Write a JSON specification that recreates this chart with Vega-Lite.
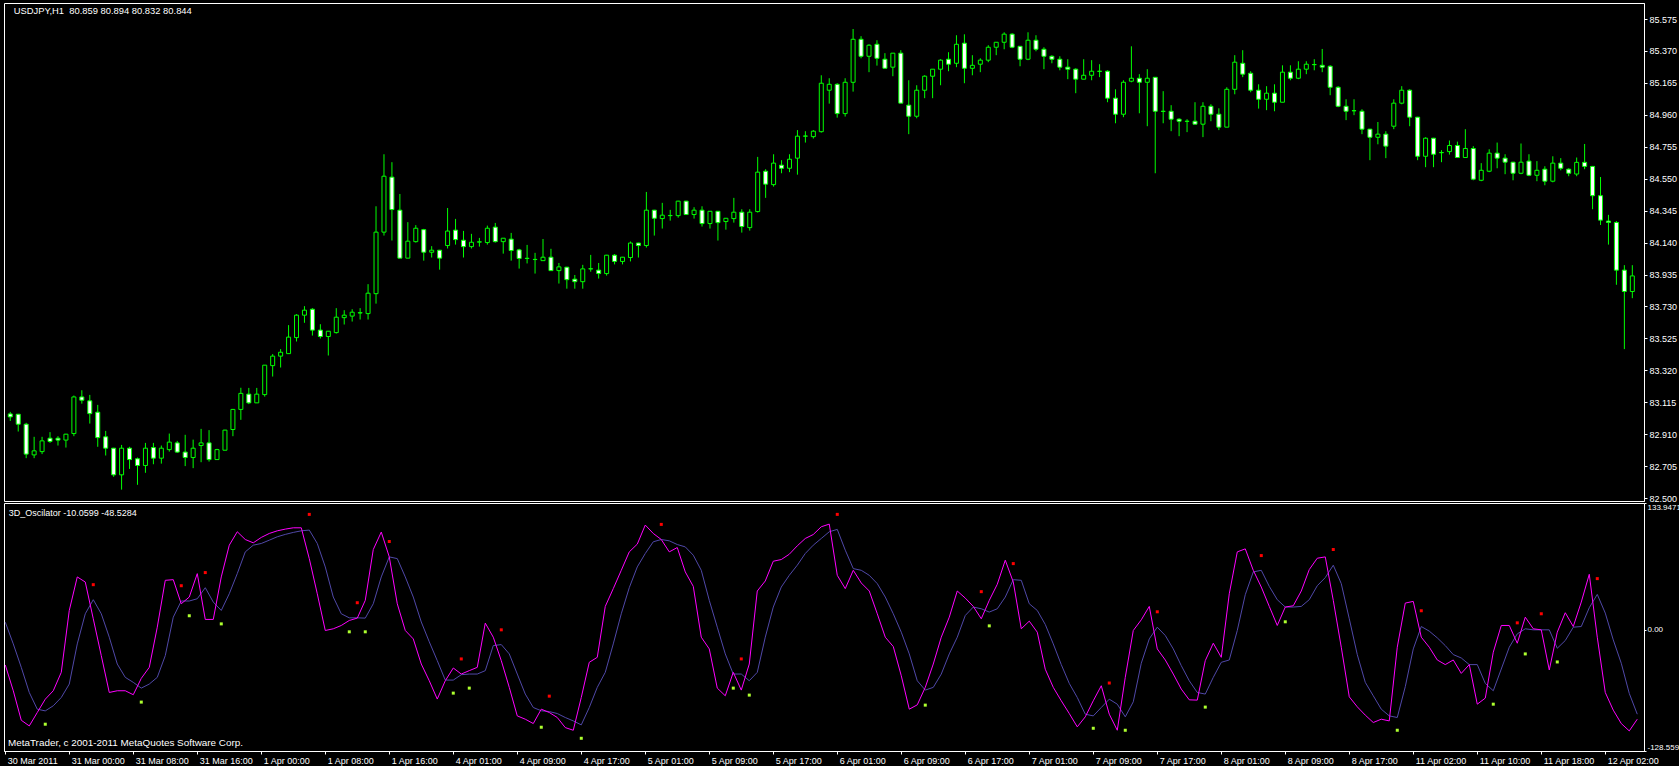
{
"$schema": "https://vega.github.io/schema/vega-lite/v6.json",
"background": "#000000",
"padding": {"left": 2, "top": 2, "right": 0, "bottom": 0},
"bounds": "flush",
"spacing": 2,
"config": {
  "view": {"stroke": "#ffffff", "strokeWidth": 1},
  "axis": {"domainColor": "#ffffff", "tickColor": "#ffffff", "labelColor": "#ffffff", "labelFont": "Liberation Sans", "labelFontSize": 9, "grid": false, "tickSize": 3, "labelPadding": 2, "labelOverlap": false, "labelFlush": false}
},
"datasets": {
"candles": [
{"i":0,"o":83.040,"h":83.053,"l":82.995,"c":83.021},
{"i":1,"o":83.038,"h":83.040,"l":82.927,"c":82.974},
{"i":2,"o":82.974,"h":82.983,"l":82.756,"c":82.782},
{"i":3,"o":82.777,"h":82.893,"l":82.756,"c":82.803},
{"i":4,"o":82.798,"h":82.893,"l":82.782,"c":82.867},
{"i":5,"o":82.884,"h":82.923,"l":82.854,"c":82.863},
{"i":6,"o":82.884,"h":82.897,"l":82.837,"c":82.872},
{"i":7,"o":82.872,"h":82.912,"l":82.824,"c":82.910},
{"i":8,"o":82.914,"h":83.158,"l":82.897,"c":83.149},
{"i":9,"o":83.149,"h":83.192,"l":83.106,"c":83.128},
{"i":10,"o":83.124,"h":83.162,"l":82.978,"c":83.042},
{"i":11,"o":83.051,"h":83.098,"l":82.829,"c":82.888},
{"i":12,"o":82.893,"h":82.931,"l":82.773,"c":82.820},
{"i":13,"o":82.820,"h":82.822,"l":82.636,"c":82.649},
{"i":14,"o":82.649,"h":82.841,"l":82.554,"c":82.820},
{"i":15,"o":82.820,"h":82.829,"l":82.687,"c":82.747},
{"i":16,"o":82.752,"h":82.760,"l":82.585,"c":82.709},
{"i":17,"o":82.709,"h":82.854,"l":82.662,"c":82.820},
{"i":18,"o":82.824,"h":82.854,"l":82.717,"c":82.756},
{"i":19,"o":82.756,"h":82.837,"l":82.721,"c":82.820},
{"i":20,"o":82.811,"h":82.914,"l":82.798,"c":82.859},
{"i":21,"o":82.854,"h":82.867,"l":82.790,"c":82.795},
{"i":22,"o":82.795,"h":82.906,"l":82.705,"c":82.760},
{"i":23,"o":82.760,"h":82.875,"l":82.692,"c":82.820},
{"i":24,"o":82.837,"h":82.944,"l":82.730,"c":82.854},
{"i":25,"o":82.854,"h":82.936,"l":82.734,"c":82.747},
{"i":26,"o":82.747,"h":82.816,"l":82.745,"c":82.811},
{"i":27,"o":82.807,"h":82.938,"l":82.806,"c":82.936},
{"i":28,"o":82.940,"h":83.072,"l":82.897,"c":83.069},
{"i":29,"o":83.069,"h":83.208,"l":83.002,"c":83.172},
{"i":30,"o":83.167,"h":83.207,"l":83.103,"c":83.111},
{"i":31,"o":83.111,"h":83.207,"l":83.111,"c":83.167},
{"i":32,"o":83.164,"h":83.353,"l":83.151,"c":83.353},
{"i":33,"o":83.350,"h":83.424,"l":83.280,"c":83.411},
{"i":34,"o":83.411,"h":83.456,"l":83.338,"c":83.436},
{"i":35,"o":83.427,"h":83.610,"l":83.427,"c":83.533},
{"i":36,"o":83.530,"h":83.680,"l":83.505,"c":83.674},
{"i":37,"o":83.674,"h":83.732,"l":83.625,"c":83.706},
{"i":38,"o":83.712,"h":83.719,"l":83.543,"c":83.578},
{"i":39,"o":83.578,"h":83.616,"l":83.524,"c":83.537},
{"i":40,"o":83.537,"h":83.571,"l":83.415,"c":83.571},
{"i":41,"o":83.562,"h":83.719,"l":83.556,"c":83.661},
{"i":42,"o":83.658,"h":83.706,"l":83.614,"c":83.674},
{"i":43,"o":83.668,"h":83.712,"l":83.633,"c":83.693},
{"i":44,"o":83.688,"h":83.719,"l":83.646,"c":83.690},
{"i":45,"o":83.684,"h":83.873,"l":83.646,"c":83.815},
{"i":46,"o":83.812,"h":84.373,"l":83.748,"c":84.207},
{"i":47,"o":84.207,"h":84.707,"l":84.185,"c":84.566},
{"i":48,"o":84.560,"h":84.656,"l":84.153,"c":84.352},
{"i":49,"o":84.348,"h":84.452,"l":84.040,"c":84.040},
{"i":50,"o":84.040,"h":84.271,"l":84.040,"c":84.149},
{"i":51,"o":84.146,"h":84.252,"l":84.140,"c":84.232},
{"i":52,"o":84.223,"h":84.228,"l":84.024,"c":84.078},
{"i":53,"o":84.078,"h":84.117,"l":84.044,"c":84.091},
{"i":54,"o":84.091,"h":84.093,"l":83.966,"c":84.040},
{"i":55,"o":84.121,"h":84.362,"l":84.102,"c":84.214},
{"i":56,"o":84.220,"h":84.292,"l":84.127,"c":84.159},
{"i":57,"o":84.155,"h":84.215,"l":84.044,"c":84.114},
{"i":58,"o":84.114,"h":84.196,"l":84.102,"c":84.142},
{"i":59,"o":84.143,"h":84.170,"l":84.114,"c":84.145},
{"i":60,"o":84.140,"h":84.249,"l":84.127,"c":84.232},
{"i":61,"o":84.239,"h":84.266,"l":84.140,"c":84.146},
{"i":62,"o":84.146,"h":84.168,"l":84.069,"c":84.168},
{"i":63,"o":84.162,"h":84.202,"l":84.024,"c":84.089},
{"i":64,"o":84.093,"h":84.100,"l":83.973,"c":84.038},
{"i":65,"o":84.039,"h":84.125,"l":84.006,"c":84.038},
{"i":66,"o":84.032,"h":84.074,"l":83.941,"c":84.031},
{"i":67,"o":84.024,"h":84.163,"l":84.024,"c":84.046},
{"i":68,"o":84.046,"h":84.100,"l":83.960,"c":83.960},
{"i":69,"o":83.960,"h":84.009,"l":83.877,"c":83.984},
{"i":70,"o":83.982,"h":83.984,"l":83.844,"c":83.902},
{"i":71,"o":83.905,"h":83.932,"l":83.844,"c":83.889},
{"i":72,"o":83.889,"h":83.997,"l":83.844,"c":83.971},
{"i":73,"o":83.971,"h":84.061,"l":83.953,"c":83.972},
{"i":74,"o":83.963,"h":84.009,"l":83.909,"c":83.941},
{"i":75,"o":83.941,"h":84.061,"l":83.928,"c":84.059},
{"i":76,"o":84.059,"h":84.066,"l":84.000,"c":84.019},
{"i":77,"o":84.019,"h":84.048,"l":84.000,"c":84.046},
{"i":78,"o":84.044,"h":84.147,"l":84.019,"c":84.137},
{"i":79,"o":84.137,"h":84.139,"l":84.044,"c":84.121},
{"i":80,"o":84.121,"h":84.465,"l":84.108,"c":84.348},
{"i":81,"o":84.348,"h":84.350,"l":84.185,"c":84.296},
{"i":82,"o":84.294,"h":84.395,"l":84.230,"c":84.316},
{"i":83,"o":84.313,"h":84.350,"l":84.281,"c":84.314},
{"i":84,"o":84.313,"h":84.408,"l":84.300,"c":84.406},
{"i":85,"o":84.406,"h":84.408,"l":84.320,"c":84.320},
{"i":86,"o":84.320,"h":84.367,"l":84.294,"c":84.348},
{"i":87,"o":84.348,"h":84.373,"l":84.243,"c":84.262},
{"i":88,"o":84.262,"h":84.343,"l":84.230,"c":84.341},
{"i":89,"o":84.341,"h":84.343,"l":84.153,"c":84.268},
{"i":90,"o":84.275,"h":84.298,"l":84.223,"c":84.296},
{"i":91,"o":84.294,"h":84.427,"l":84.268,"c":84.335},
{"i":92,"o":84.335,"h":84.354,"l":84.204,"c":84.243},
{"i":93,"o":84.236,"h":84.354,"l":84.217,"c":84.335},
{"i":94,"o":84.339,"h":84.690,"l":84.333,"c":84.592},
{"i":95,"o":84.598,"h":84.611,"l":84.427,"c":84.515},
{"i":96,"o":84.512,"h":84.707,"l":84.499,"c":84.650},
{"i":97,"o":84.637,"h":84.669,"l":84.585,"c":84.617},
{"i":98,"o":84.617,"h":84.707,"l":84.592,"c":84.675},
{"i":99,"o":84.682,"h":84.862,"l":84.576,"c":84.823},
{"i":100,"o":84.823,"h":84.855,"l":84.782,"c":84.824},
{"i":101,"o":84.820,"h":84.862,"l":84.808,"c":84.855},
{"i":102,"o":84.852,"h":85.214,"l":84.846,"c":85.163},
{"i":103,"o":85.118,"h":85.195,"l":85.032,"c":85.156},
{"i":104,"o":85.156,"h":85.163,"l":84.942,"c":84.968},
{"i":105,"o":84.968,"h":85.195,"l":84.949,"c":85.169},
{"i":106,"o":85.169,"h":85.511,"l":85.109,"c":85.445},
{"i":107,"o":85.445,"h":85.465,"l":85.323,"c":85.336},
{"i":108,"o":85.336,"h":85.413,"l":85.234,"c":85.407},
{"i":109,"o":85.413,"h":85.439,"l":85.276,"c":85.323},
{"i":110,"o":85.317,"h":85.356,"l":85.259,"c":85.259},
{"i":111,"o":85.266,"h":85.356,"l":85.208,"c":85.356},
{"i":112,"o":85.356,"h":85.375,"l":85.035,"c":85.035},
{"i":113,"o":85.022,"h":85.182,"l":84.836,"c":84.951},
{"i":114,"o":84.951,"h":85.150,"l":84.938,"c":85.118},
{"i":115,"o":85.118,"h":85.214,"l":85.067,"c":85.208},
{"i":116,"o":85.208,"h":85.253,"l":85.067,"c":85.253},
{"i":117,"o":85.253,"h":85.317,"l":85.150,"c":85.311},
{"i":118,"o":85.317,"h":85.362,"l":85.240,"c":85.285},
{"i":119,"o":85.291,"h":85.471,"l":85.266,"c":85.413},
{"i":120,"o":85.420,"h":85.477,"l":85.163,"c":85.259},
{"i":121,"o":85.259,"h":85.343,"l":85.214,"c":85.278},
{"i":122,"o":85.285,"h":85.323,"l":85.234,"c":85.311},
{"i":123,"o":85.311,"h":85.407,"l":85.298,"c":85.394},
{"i":124,"o":85.394,"h":85.426,"l":85.343,"c":85.426},
{"i":125,"o":85.426,"h":85.490,"l":85.381,"c":85.478},
{"i":126,"o":85.478,"h":85.484,"l":85.388,"c":85.394},
{"i":127,"o":85.400,"h":85.402,"l":85.272,"c":85.317},
{"i":128,"o":85.317,"h":85.490,"l":85.311,"c":85.439},
{"i":129,"o":85.439,"h":85.471,"l":85.368,"c":85.381},
{"i":130,"o":85.381,"h":85.394,"l":85.253,"c":85.336},
{"i":131,"o":85.336,"h":85.343,"l":85.291,"c":85.317},
{"i":132,"o":85.317,"h":85.336,"l":85.246,"c":85.266},
{"i":133,"o":85.266,"h":85.317,"l":85.189,"c":85.253},
{"i":134,"o":85.253,"h":85.259,"l":85.099,"c":85.189},
{"i":135,"o":85.189,"h":85.317,"l":85.189,"c":85.214},
{"i":136,"o":85.214,"h":85.311,"l":85.182,"c":85.240},
{"i":137,"o":85.240,"h":85.285,"l":85.202,"c":85.239},
{"i":138,"o":85.240,"h":85.246,"l":85.041,"c":85.067},
{"i":139,"o":85.067,"h":85.124,"l":84.906,"c":84.964},
{"i":140,"o":84.964,"h":85.182,"l":84.945,"c":85.169},
{"i":141,"o":85.176,"h":85.400,"l":85.169,"c":85.195},
{"i":142,"o":85.195,"h":85.221,"l":84.970,"c":85.169},
{"i":143,"o":85.169,"h":85.253,"l":84.887,"c":85.195},
{"i":144,"o":85.201,"h":85.203,"l":84.585,"c":84.983},
{"i":145,"o":84.983,"h":85.112,"l":84.906,"c":84.982},
{"i":146,"o":84.983,"h":85.022,"l":84.855,"c":84.932},
{"i":147,"o":84.932,"h":84.938,"l":84.823,"c":84.919},
{"i":148,"o":84.919,"h":84.932,"l":84.849,"c":84.918},
{"i":149,"o":84.919,"h":85.041,"l":84.900,"c":84.900},
{"i":150,"o":84.900,"h":85.041,"l":84.817,"c":85.015},
{"i":151,"o":85.015,"h":85.028,"l":84.919,"c":84.964},
{"i":152,"o":84.964,"h":85.002,"l":84.862,"c":84.881},
{"i":153,"o":84.881,"h":85.137,"l":84.881,"c":85.124},
{"i":154,"o":85.124,"h":85.343,"l":85.092,"c":85.298},
{"i":155,"o":85.291,"h":85.375,"l":85.202,"c":85.221},
{"i":156,"o":85.227,"h":85.240,"l":85.105,"c":85.118},
{"i":157,"o":85.118,"h":85.156,"l":85.000,"c":85.060},
{"i":158,"o":85.060,"h":85.144,"l":84.990,"c":85.099},
{"i":159,"o":85.099,"h":85.156,"l":84.983,"c":85.041},
{"i":160,"o":85.041,"h":85.278,"l":85.041,"c":85.234},
{"i":161,"o":85.234,"h":85.278,"l":85.182,"c":85.195},
{"i":162,"o":85.195,"h":85.304,"l":85.189,"c":85.253},
{"i":163,"o":85.253,"h":85.304,"l":85.221,"c":85.285},
{"i":164,"o":85.282,"h":85.317,"l":85.246,"c":85.283},
{"i":165,"o":85.278,"h":85.383,"l":85.234,"c":85.266},
{"i":166,"o":85.272,"h":85.278,"l":85.086,"c":85.137},
{"i":167,"o":85.137,"h":85.144,"l":85.009,"c":85.015},
{"i":168,"o":85.015,"h":85.060,"l":84.926,"c":84.983},
{"i":169,"o":84.987,"h":85.060,"l":84.958,"c":84.986},
{"i":170,"o":84.983,"h":84.996,"l":84.836,"c":84.868},
{"i":171,"o":84.868,"h":84.870,"l":84.669,"c":84.816},
{"i":172,"o":84.816,"h":84.914,"l":84.771,"c":84.836},
{"i":173,"o":84.836,"h":84.855,"l":84.682,"c":84.759},
{"i":174,"o":84.887,"h":85.060,"l":84.868,"c":85.035},
{"i":175,"o":85.035,"h":85.144,"l":85.028,"c":85.118},
{"i":176,"o":85.118,"h":85.124,"l":84.887,"c":84.945},
{"i":177,"o":84.945,"h":84.947,"l":84.669,"c":84.694},
{"i":178,"o":84.694,"h":84.816,"l":84.624,"c":84.810},
{"i":179,"o":84.810,"h":84.812,"l":84.624,"c":84.707},
{"i":180,"o":84.718,"h":84.733,"l":84.656,"c":84.717},
{"i":181,"o":84.724,"h":84.795,"l":84.705,"c":84.763},
{"i":182,"o":84.763,"h":84.788,"l":84.686,"c":84.686},
{"i":183,"o":84.686,"h":84.868,"l":84.686,"c":84.744},
{"i":184,"o":84.744,"h":84.759,"l":84.540,"c":84.547},
{"i":185,"o":84.540,"h":84.650,"l":84.534,"c":84.604},
{"i":186,"o":84.598,"h":84.739,"l":84.592,"c":84.714},
{"i":187,"o":84.714,"h":84.782,"l":84.617,"c":84.682},
{"i":188,"o":84.682,"h":84.707,"l":84.579,"c":84.656},
{"i":189,"o":84.656,"h":84.658,"l":84.540,"c":84.585},
{"i":190,"o":84.585,"h":84.776,"l":84.579,"c":84.656},
{"i":191,"o":84.663,"h":84.707,"l":84.566,"c":84.572},
{"i":192,"o":84.572,"h":84.663,"l":84.534,"c":84.604},
{"i":193,"o":84.611,"h":84.630,"l":84.508,"c":84.534},
{"i":194,"o":84.534,"h":84.694,"l":84.527,"c":84.650},
{"i":195,"o":84.650,"h":84.682,"l":84.604,"c":84.617},
{"i":196,"o":84.611,"h":84.617,"l":84.566,"c":84.585},
{"i":197,"o":84.580,"h":84.686,"l":84.566,"c":84.655},
{"i":198,"o":84.655,"h":84.773,"l":84.611,"c":84.629},
{"i":199,"o":84.629,"h":84.631,"l":84.354,"c":84.441},
{"i":200,"o":84.441,"h":84.561,"l":84.253,"c":84.284},
{"i":201,"o":84.278,"h":84.318,"l":84.127,"c":84.269},
{"i":202,"o":84.269,"h":84.278,"l":83.869,"c":83.963},
{"i":203,"o":83.963,"h":83.995,"l":83.456,"c":83.826},
{"i":204,"o":83.826,"h":83.995,"l":83.783,"c":83.926}
],
"osc": [
{"i":0,"f":-37.5,"s":7.8},{"i":1,"f":-64.8,"s":-15.2},{"i":2,"f":-96.0,"s":-40.0},{"i":3,"f":-102.0,"s":-66.6},{"i":4,"f":-87.8,"s":-84.3},
{"i":5,"f":-73.7,"s":-86.1},{"i":6,"f":-64.8,"s":-80.7},{"i":7,"f":-45.3,"s":-71.9},{"i":8,"f":20.2,"s":-57.7},{"i":9,"f":55.7,"s":-15.2},
{"i":10,"f":50.3,"s":16.7},{"i":11,"f":11.4,"s":31.6},{"i":12,"f":-27.6,"s":16.7},{"i":13,"f":-66.6,"s":-8.1},{"i":14,"f":-64.8,"s":-36.5},
{"i":15,"f":-64.8,"s":-50.6},{"i":16,"f":-69.0,"s":-55.9},{"i":17,"f":-51.7,"s":-62.0},{"i":18,"f":-40.0,"s":-57.7},{"i":19,"f":2.5,"s":-50.6},
{"i":20,"f":52.1,"s":-27.6},{"i":21,"f":52.8,"s":13.1},{"i":22,"f":27.3,"s":30.2},{"i":23,"f":34.4,"s":30.2},{"i":24,"f":59.2,"s":32.6},
{"i":25,"f":10.7,"s":44.3},{"i":26,"f":10.7,"s":29.1},{"i":27,"f":55.7,"s":20.2},{"i":28,"f":89.3,"s":37.9},{"i":29,"f":103.5,"s":59.2},
{"i":30,"f":95.3,"s":82.2},{"i":31,"f":91.8,"s":89.3},{"i":32,"f":97.5,"s":91.1},{"i":33,"f":101.7,"s":94.6},{"i":34,"f":104.5,"s":98.2},
{"i":35,"f":106.3,"s":100.7},{"i":36,"f":107.7,"s":102.8},{"i":37,"f":107.7,"s":104.5},{"i":38,"f":75.1,"s":105.3},{"i":39,"f":37.9,"s":91.1},
{"i":40,"f":-1.0,"s":66.3},{"i":41,"f":0.8,"s":34.4},{"i":42,"f":4.3,"s":16.7},{"i":43,"f":9.6,"s":12.4},{"i":44,"f":12.1,"s":12.4},
{"i":45,"f":30.9,"s":12.1},{"i":46,"f":84.7,"s":27.3},{"i":47,"f":103.2,"s":55.7},{"i":48,"f":76.9,"s":76.9},{"i":49,"f":27.3,"s":75.1},
{"i":50,"f":-1.0,"s":55.7},{"i":51,"f":-9.9,"s":34.4},{"i":52,"f":-36.5,"s":8.0},{"i":53,"f":-54.2,"s":-13.0},{"i":54,"f":-73.6,"s":-32.9},
{"i":55,"f":-54.2,"s":-53.5},{"i":56,"f":-40.7,"s":-53.5},{"i":57,"f":-47.1,"s":-47.8},{"i":58,"f":-43.5,"s":-47.1},{"i":59,"f":-40.0,"s":-47.1},
{"i":60,"f":6.8,"s":-43.5},{"i":61,"f":-8.1,"s":-17.0},{"i":62,"f":-32.9,"s":-15.9},{"i":63,"f":-61.2,"s":-25.8},{"i":64,"f":-91.4,"s":-47.1},
{"i":65,"f":-94.9,"s":-68.3},{"i":66,"f":-99.5,"s":-82.5},{"i":67,"f":-84.3,"s":-86.0},{"i":68,"f":-87.8,"s":-86.8},{"i":69,"f":-93.1,"s":-88.9},
{"i":70,"f":-103.8,"s":-93.1},{"i":71,"f":-106.6,"s":-96.7},{"i":72,"f":-71.9,"s":-100.9},{"i":73,"f":-34.7,"s":-82.5},{"i":74,"f":-29.4,"s":-61.2},
{"i":75,"f":24.5,"s":-45.3},{"i":76,"f":43.3,"s":-15.2},{"i":77,"f":62.7,"s":16.7},{"i":78,"f":82.2,"s":44.3},{"i":79,"f":90.4,"s":66.3},
{"i":80,"f":110.6,"s":80.5},{"i":81,"f":101.7,"s":92.9},{"i":82,"f":95.3,"s":95.3},{"i":83,"f":82.2,"s":93.9},{"i":84,"f":86.8,"s":90.0},
{"i":85,"f":61.0,"s":87.5},{"i":86,"f":45.7,"s":78.7},{"i":87,"f":-8.1,"s":62.7},{"i":88,"f":-20.5,"s":30.9},{"i":89,"f":-62.0,"s":2.5},
{"i":90,"f":-70.1,"s":-25.8},{"i":91,"f":-45.3,"s":-47.1},{"i":92,"f":-64.1,"s":-47.1},{"i":93,"f":-36.5,"s":-54.2},{"i":94,"f":40.8,"s":-45.3},
{"i":95,"f":51.4,"s":-8.1},{"i":96,"f":72.3,"s":23.8},{"i":97,"f":74.1,"s":45.0},{"i":98,"f":79.7,"s":57.4},{"i":99,"f":88.6,"s":68.1},
{"i":100,"f":96.4,"s":80.5},{"i":101,"f":100.6,"s":89.3},{"i":102,"f":108.8,"s":96.4},{"i":103,"f":111.6,"s":103.5},{"i":104,"f":57.4,"s":106.0},
{"i":105,"f":43.3,"s":84.0},{"i":106,"f":62.7,"s":64.5},{"i":107,"f":49.3,"s":62.7},{"i":108,"f":40.8,"s":57.4},{"i":109,"f":16.7,"s":48.6},
{"i":110,"f":-8.1,"s":34.4},{"i":111,"f":-18.0,"s":16.7},{"i":112,"f":-48.9,"s":-2.8},{"i":113,"f":-84.3,"s":-25.8},{"i":114,"f":-79.7,"s":-54.2},
{"i":115,"f":-61.2,"s":-64.1},{"i":116,"f":-36.5,"s":-61.2},{"i":117,"f":-8.1,"s":-47.1},{"i":118,"f":13.1,"s":-25.8},{"i":119,"f":40.8,"s":-8.1},
{"i":120,"f":33.3,"s":14.9},{"i":121,"f":24.5,"s":23.8},{"i":122,"f":11.4,"s":22.0},{"i":123,"f":30.9,"s":18.5},{"i":124,"f":47.9,"s":22.0},
{"i":125,"f":73.4,"s":34.4},{"i":126,"f":50.3,"s":52.8},{"i":127,"f":0.8,"s":52.1},{"i":128,"f":8.9,"s":27.3},{"i":129,"f":-2.8,"s":20.2},
{"i":130,"f":-42.0,"s":5.4},{"i":131,"f":-61.2,"s":-15.2},{"i":132,"f":-75.4,"s":-37.1},{"i":133,"f":-88.9,"s":-57.0},{"i":134,"f":-103.0,"s":-71.9},
{"i":135,"f":-92.4,"s":-89.6},{"i":136,"f":-75.4,"s":-91.4},{"i":137,"f":-59.5,"s":-82.5},{"i":138,"f":-89.6,"s":-73.7},{"i":139,"f":-106.6,"s":-79.0},
{"i":140,"f":-50.6,"s":-92.4},{"i":141,"f":-1.0,"s":-76.5},{"i":142,"f":10.3,"s":-35.7},{"i":143,"f":24.5,"s":-9.9},{"i":144,"f":-20.5,"s":2.5},
{"i":145,"f":-32.2,"s":-6.3},{"i":146,"f":-47.1,"s":-20.5},{"i":147,"f":-63.0,"s":-38.2},{"i":148,"f":-74.4,"s":-54.2},{"i":149,"f":-74.7,"s":-66.6},
{"i":150,"f":-32.9,"s":-68.3},{"i":151,"f":-14.5,"s":-50.6},{"i":152,"f":-29.4,"s":-34.7},{"i":153,"f":37.9,"s":-32.2},{"i":154,"f":82.2,"s":-1.0},
{"i":155,"f":85.4,"s":36.9},{"i":156,"f":62.7,"s":61.0},{"i":157,"f":45.0,"s":62.7},{"i":158,"f":24.5,"s":45.7},{"i":159,"f":4.3,"s":31.6},
{"i":160,"f":23.8,"s":23.8},{"i":161,"f":25.2,"s":23.8},{"i":162,"f":40.8,"s":24.5},{"i":163,"f":63.5,"s":31.6},{"i":164,"f":75.5,"s":46.4},
{"i":165,"f":76.9,"s":55.0},{"i":166,"f":30.9,"s":68.1},{"i":167,"f":-18.7,"s":48.6},{"i":168,"f":-71.2,"s":11.4},{"i":169,"f":-81.8,"s":-26.5},
{"i":170,"f":-90.6,"s":-55.9},{"i":171,"f":-98.4,"s":-70.1},{"i":172,"f":-94.9,"s":-84.3},{"i":173,"f":-96.7,"s":-91.4},{"i":174,"f":-18.7,"s":-93.1},
{"i":175,"f":28.0,"s":-60.5},{"i":176,"f":29.8,"s":-20.5},{"i":177,"f":-8.1,"s":3.2},{"i":178,"f":-18.7,"s":-1.7},{"i":179,"f":-32.2,"s":-8.8},
{"i":180,"f":-37.1,"s":-17.0},{"i":181,"f":-32.2,"s":-26.5},{"i":182,"f":-46.4,"s":-30.1},{"i":183,"f":-37.1,"s":-37.1},{"i":184,"f":-79.0,"s":-37.1},
{"i":185,"f":-72.6,"s":-57.0},{"i":186,"f":-24.0,"s":-64.8},{"i":187,"f":4.3,"s":-41.8},{"i":188,"f":4.3,"s":-18.7},{"i":189,"f":-14.5,"s":-4.6},
{"i":190,"f":13.1,"s":0.8},{"i":191,"f":0.8,"s":-0.3},{"i":192,"f":-0.3,"s":-0.3},{"i":193,"f":-42.8,"s":-0.3},{"i":194,"f":-2.8,"s":-19.8},
{"i":195,"f":17.8,"s":-11.6},{"i":196,"f":3.2,"s":2.5},{"i":197,"f":29.1,"s":3.2},{"i":198,"f":58.5,"s":23.1},{"i":199,"f":-8.1,"s":37.2},
{"i":200,"f":-66.6,"s":17.4},{"i":201,"f":-85.3,"s":-11.0},{"i":202,"f":-99.5,"s":-35.7},{"i":203,"f":-107.3,"s":-67.6},{"i":204,"f":-94.9,"s":-89.6}
],
"red": [
{"i":11,"v":47.5},{"i":22,"v":46.4},{"i":25,"v":60.3},{"i":38,"v":121.9},{"i":44,"v":28.4},{"i":48,"v":93.2},{"i":57,"v":-31.1},{"i":62,"v":-0.3},
{"i":68,"v":-70.5},{"i":82,"v":111.3},{"i":92,"v":-31.1},{"i":104,"v":121.9},{"i":122,"v":40.1},{"i":126,"v":69.8},{"i":138,"v":-56.6},{"i":144,"v":18.8},
{"i":157,"v":78.3},{"i":166,"v":84.7},{"i":177,"v":19.9},{"i":189,"v":7.1},{"i":192,"v":16.7},{"i":199,"v":53.9}
],
"yellow": [
{"i":5,"v":-100.2},{"i":17,"v":-76.8},{"i":23,"v":14.6},{"i":27,"v":6.0},{"i":43,"v":-2.4},{"i":45,"v":-2.4},{"i":56,"v":-67.3},{"i":58,"v":-62.0},
{"i":67,"v":-103.4},{"i":72,"v":-115.1},{"i":91,"v":-62.0},{"i":93,"v":-69.4},{"i":115,"v":-80.0},{"i":123,"v":3.9},{"i":136,"v":-104.5},{"i":140,"v":-106.6},
{"i":150,"v":-82.1},{"i":160,"v":8.2},{"i":174,"v":-106.6},{"i":186,"v":-79.0},{"i":190,"v":-25.8},{"i":194,"v":-34.3}
],
"toptext": [{"t": "USDJPY,H1\u00a0 80.859 80.894 80.832 80.844"}],
"osctext": [{"t": "3D_Oscilator -10.0599 -48.5284"}],
"foot": [{"t": "MetaTrader, c 2001-2011 MetaQuotes Software Corp."}]
},
"vconcat": [
{
  "width": 1640, "height": 498,
  "layer": [
    {
      "data": {"name": "candles"},
      "mark": {"type": "rule", "color": "#00ff00", "strokeWidth": 1},
      "encoding": {
        "x": {"field": "i", "type": "quantitative", "scale": {"domain": [-0.16, 204.84], "nice": false, "zero": false}, "axis": null},
        "y": {"field": "l", "type": "quantitative", "scale": {"domain": [82.481, 85.678], "nice": false, "zero": false},
              "axis": {"orient": "right", "title": null, "labelAlign": "left", "labelOverlap": false, "labelBound": false, "tickCount": 40,
                       "values": [82.5, 82.705, 82.91, 83.115, 83.32, 83.525, 83.73, 83.935, 84.14, 84.345, 84.55, 84.755, 84.96, 85.165, 85.37, 85.575],
                       "labelExpr": "format(datum.value, '.3f')"}},
        "y2": {"field": "h"}
      }
    },
    {
      "data": {"name": "candles"},
      "mark": {"type": "bar", "orient": "vertical", "size": 4, "stroke": "#00ff00", "strokeWidth": 1},
      "encoding": {
        "x": {"field": "i", "type": "quantitative", "axis": null},
        "y": {"field": "o", "type": "quantitative"},
        "y2": {"field": "c"},
        "fill": {"condition": {"test": "datum.c < datum.o", "value": "#ffffff"}, "value": "#000000"}
      }
    },
    {
      "data": {"name": "toptext"},
      "mark": {"type": "text", "align": "left", "baseline": "alphabetic", "font": "Liberation Sans", "fontSize": 9.4, "color": "#ffffff"},
      "encoding": {
        "x": {"datum": 0.43, "type": "quantitative", "axis": null},
        "y": {"datum": 85.6055, "type": "quantitative"},
        "text": {"field": "t"}
      }
    }
  ]
},
{
  "width": 1640, "height": 248,
  "layer": [
    {
      "data": {"name": "osc"},
      "mark": {"type": "line", "color": "#5048a8", "strokeWidth": 1},
      "encoding": {
        "x": {"field": "i", "type": "quantitative", "scale": {"domain": [-0.16, 204.84], "nice": false, "zero": false},
              "axis": {"orient": "bottom", "title": null, "labelAlign": "left", "labelOffset": 2, "labelBaseline": "top", "tickCount": 60,
                       "values": [0, 8, 16, 24, 32, 40, 48, 56, 64, 72, 80, 88, 96, 104, 112, 120, 128, 136, 144, 152, 160, 168, 176, 184, 192, 200],
                       "labelExpr": "['30 Mar 2011','31 Mar 00:00','31 Mar 08:00','31 Mar 16:00','1 Apr 00:00','1 Apr 08:00','1 Apr 16:00','4 Apr 01:00','4 Apr 09:00','4 Apr 17:00','5 Apr 01:00','5 Apr 09:00','5 Apr 17:00','6 Apr 01:00','6 Apr 09:00','6 Apr 17:00','7 Apr 01:00','7 Apr 09:00','7 Apr 17:00','8 Apr 01:00','8 Apr 09:00','8 Apr 17:00','11 Apr 02:00','11 Apr 10:00','11 Apr 18:00','12 Apr 02:00'][round(datum.value / 8)]"}},
        "y": {"field": "s", "type": "quantitative", "scale": {"domain": [-128.559, 133.9471], "nice": false, "zero": false},
              "axis": {"orient": "right", "title": null, "labelAlign": "left", "labelFlush": true, "labelOverlap": false,
                       "labelFontSize": 8, "tickSize": 2, "labelPadding": 1,
                       "values": [-128.559, 0, 133.9471],
                       "labelExpr": "datum.value > 1 ? '133.9471' : (datum.value < -1 ? '-128.559' : '0.00')"}}
      }
    },
    {
      "data": {"name": "osc"},
      "mark": {"type": "line", "color": "#ff00ff", "strokeWidth": 1},
      "encoding": {
        "x": {"field": "i", "type": "quantitative"},
        "y": {"field": "f", "type": "quantitative"}
      }
    },
    {
      "data": {"name": "red"},
      "mark": {"type": "square", "size": 9, "color": "#ff0000", "opacity": 1},
      "encoding": {
        "x": {"field": "i", "type": "quantitative"},
        "y": {"field": "v", "type": "quantitative"}
      }
    },
    {
      "data": {"name": "yellow"},
      "mark": {"type": "square", "size": 9, "color": "#adff2f", "opacity": 1},
      "encoding": {
        "x": {"field": "i", "type": "quantitative"},
        "y": {"field": "v", "type": "quantitative"}
      }
    },
    {
      "data": {"name": "osctext"},
      "mark": {"type": "text", "align": "left", "baseline": "alphabetic", "font": "Liberation Sans", "fontSize": 9, "color": "#ffffff"},
      "encoding": {
        "x": {"datum": 0.43, "type": "quantitative"},
        "y": {"datum": 119.66, "type": "quantitative"},
        "text": {"field": "t"}
      }
    },
    {
      "data": {"name": "foot"},
      "mark": {"type": "text", "align": "left", "baseline": "alphabetic", "font": "Liberation Sans", "fontSize": 9.9, "color": "#ffffff"},
      "encoding": {
        "x": {"datum": 0.34, "type": "quantitative"},
        "y": {"datum": -122.9, "type": "quantitative"},
        "text": {"field": "t"}
      }
    }
  ]
}
]
}
